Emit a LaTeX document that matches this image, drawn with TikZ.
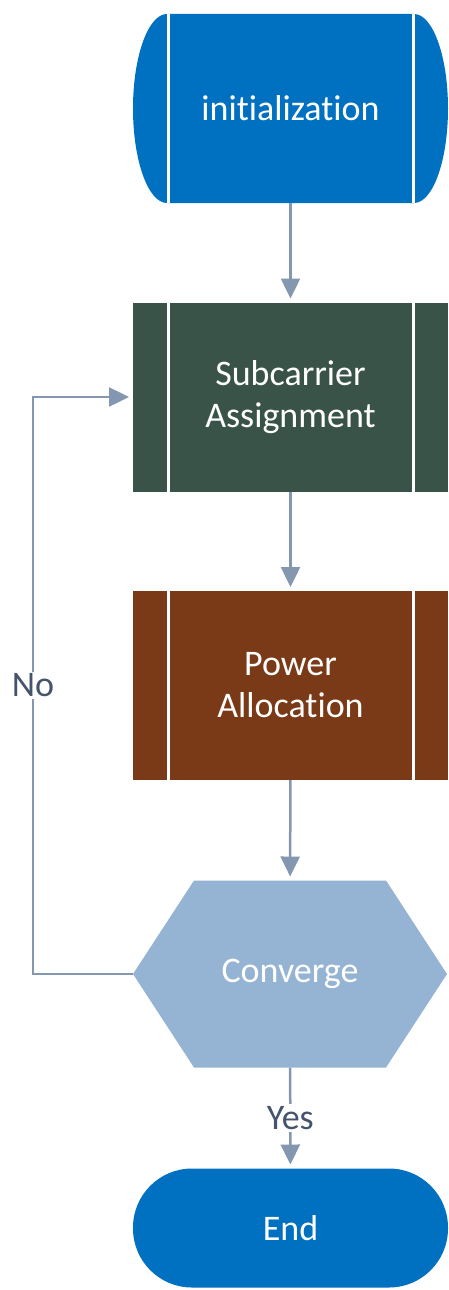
\documentclass[tikz,border=0pt]{standalone}
\usepackage{fontspec}
\setmainfont{Carlito}[Ligatures={NoCommon,NoContextual},RawFeature={-calt}]
\usetikzlibrary{positioning,backgrounds,arrows.meta}
\definecolor{initblue}{HTML}{0070C0}
\definecolor{subgreen}{HTML}{3A5349}
\definecolor{powbrown}{HTML}{7B3A17}
\definecolor{hexblue}{HTML}{95B3D3}
\definecolor{arrowgray}{HTML}{8497B0}
\definecolor{lblgray}{HTML}{44546A}
\tikzstyle{basic} = [rectangle, outer sep=0pt, align=center, text=white,
    font=\fontsize{36}{42}\selectfont]
\tikzstyle{terminal} = [basic, minimum width=315pt, minimum height=189pt]
\tikzstyle{predef} = [basic, minimum width=315pt, minimum height=189pt,
    path picture={
      \draw[white, line width=3pt]
        ([xshift=35pt]path picture bounding box.north west) --
        ([xshift=35pt]path picture bounding box.south west)
        ([xshift=-35pt]path picture bounding box.north east) --
        ([xshift=-35pt]path picture bounding box.south east);}]
\tikzstyle{decision} = [basic, minimum width=314pt, minimum height=187pt]
\tikzstyle{stop} = [basic, fill=initblue, rounded corners=59pt,
    minimum width=315pt, minimum height=119pt]
\tikzstyle{line} = [draw=arrowgray, line width=2.5pt]
\tikzstyle{arrow} = [line, -{Triangle[length=20pt,width=19pt]}, shorten >=4pt]
\tikzstyle{lbl} = [fill=white, text=lblgray, inner sep=2pt,
    font=\fontsize{36}{42}\selectfont]

\begin{document}
\begin{tikzpicture}[x=1pt, y=1pt, node distance=288.5pt]
    \useasboundingbox (0,0) rectangle (449,-1290);

    % Initialization
    \node [terminal] (init) at (290.5,-108.5) {initialization};

    % Subcarrier assignment
    \node [predef, fill=subgreen, below of=init] (sub) {Subcarrier\\Assignment};

    % Power allocation
    \node [predef, fill=powbrown, below of=sub] (pow) {Power\\Allocation};

    % Convergence test
    \node [decision, below of=pow, xshift=-0.5pt] (conv) {Converge};

    % End node
    \node [stop, below of=conv, node distance=254pt, xshift=0.5pt] (end) {End};

    % Shapes drawn behind the texts
    \begin{scope}[on background layer]
      \fill[initblue] ([xshift=34pt]init.north west) --
        ([xshift=-34pt]init.north east)
        arc[start angle=90, end angle=-90, x radius=34pt, y radius=94.5pt] --
        ([xshift=34pt]init.south west)
        arc[start angle=270, end angle=90, x radius=34pt, y radius=94.5pt] -- cycle;
      \draw[white, line width=3pt]
        ([xshift=35pt]init.north west) -- ([xshift=35pt]init.south west)
        ([xshift=-35pt]init.north east) -- ([xshift=-35pt]init.south east);
      \fill[hexblue] (conv.west) -- ([xshift=61pt]conv.north west) --
        ([xshift=-61pt]conv.north east) -- (conv.east) --
        ([xshift=-61pt]conv.south east) -- ([xshift=61pt]conv.south west) -- cycle;
    \end{scope}

    % Connectors
    \draw [arrow] (init) -- (sub);
    \draw [arrow] (sub) -- (pow);
    \draw [arrow] (pow) -- (conv);
    \draw [arrow] (conv) -- node [lbl] (yes) {Yes} (end);
    \draw [arrow] (conv.west) -- ++(-100,0) |- node [lbl, pos=0.25] (no) {No} (sub.west);
\end{tikzpicture}
\end{document}
